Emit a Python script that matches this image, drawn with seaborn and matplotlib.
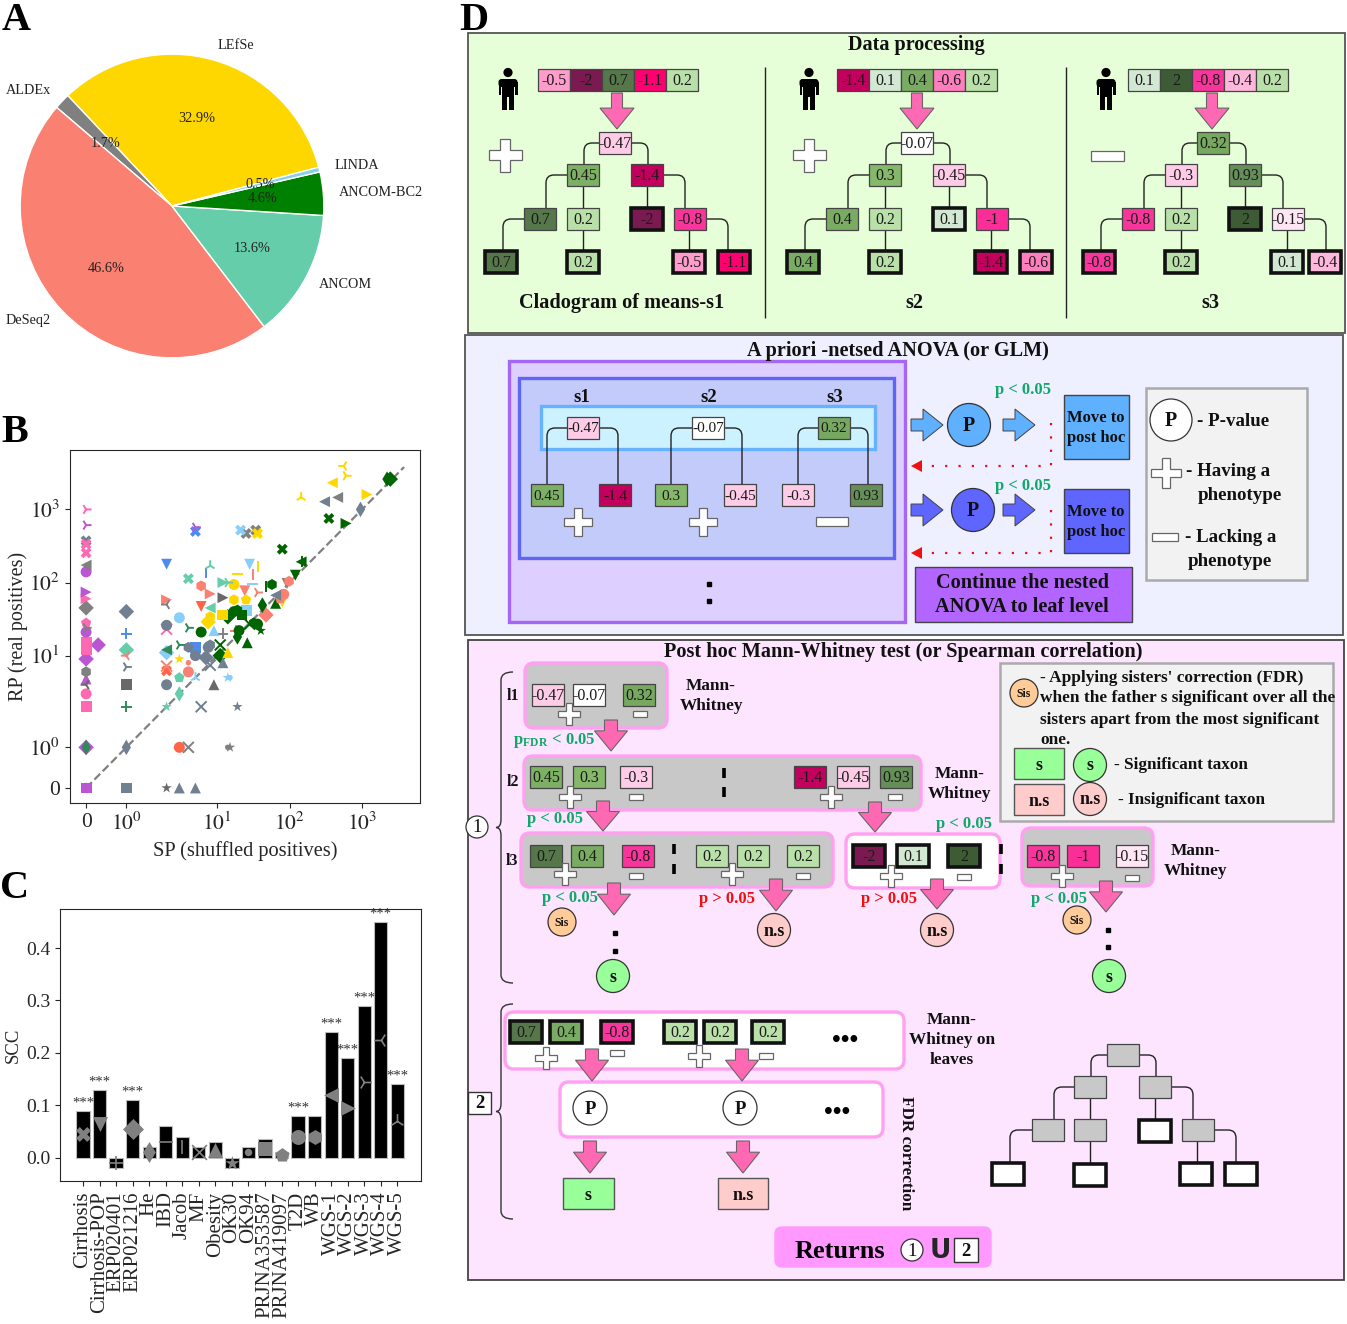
import numpy as np
import pandas as pd
import seaborn as sns
import matplotlib
matplotlib.use("Agg")
import matplotlib.pyplot as plt
from matplotlib.patches import Rectangle, Circle, Polygon, FancyBboxPatch, PathPatch
from matplotlib.path import Path

# panel A
pie_labels = ["LEfSe", "ALDEx", "DeSeq2", "ANCOM", "ANCOM-BC2", "LINDA"]
pie_values = [32.9, 1.7, 46.6, 13.6, 4.6, 0.5]
pie_colors = ["#FFD700", "#808080", "#FA8072", "#66CDAA", "#008000", "#87CEEB"]

# panel C
dataset_names = ["Cirrhosis", "Cirrhosis-POP", "ERP020401", "ERP021216", "He", "IBD", "Jacob", "MF",
                 "Obesity", "OK30", "OK94", "PRJNA353587", "PRJNA419097", "T2D", "WB",
                 "WGS-1", "WGS-2", "WGS-3", "WGS-4", "WGS-5"]
scc_values = [0.09, 0.13, -0.02, 0.11, 0.02, 0.06, 0.04, 0.02, 0.03, -0.02,
              0.02, 0.035, 0.01, 0.08, 0.08, 0.24, 0.19, 0.29, 0.45, 0.14]
scc_significant = ["Cirrhosis", "Cirrhosis-POP", "ERP021216", "T2D", "WGS-1", "WGS-2", "WGS-3", "WGS-4", "WGS-5"]
dataset_markers = ["X", "v", "+", "D", "d", "_", "|", "x", "^", "*", ".", "s", "p", "o", "h", "<", ">", "4", "3", "2"]

# panel B, one set of lists per method
aldex_sp = [25, 34, 460, 92, 2, 12, 14, 15, 4, 0, 0, 0, 0]
aldex_rp = [469, 521, 1460, 97, 50, 20, 1, 1, 1, 45, 24, 173, 6]
aldex_set = ["Cirrhosis", "Cirrhosis", "WGS-1", "Cirrhosis-POP", "WGS-4", "ERP020401", "OK94", "OK30", "MF",
             "ERP021216", "WGS-3", "WGS-1", "WB"]
dimgray_sp = [12, 1, 2, 0, 9]
dimgray_rp = [62, 4, 0, 4, 4]
dimgray_set = ["WGS-2", "PRJNA353587", "OK30", "WGS-4", "Obesity"]
slate_sp = [303, 950, 64, 42, 8, 7.5, 7, 5, 4, 8, 12, 2, 6, 19, 1, 1, 1, 3, 5, 0, 2, 1]
slate_rp = [1275, 1000, 67, 49, 14, 13, 9.4, 10, 13, 7.4, 8, 4, 2, 2, 40, 7, 1, 0, 0, 372, 26, 0]
slate_set = ["WGS-1", "He", "WGS-1", "He", "WB", "T2D", "ERP021216", "T2D", "WB", "MF", "Obesity", "T2D", "MF",
             "OK30", "ERP021216", "WGS-3", "He", "Obesity", "Obesity", "Cirrhosis", "T2D", "PRJNA353587"]
deseq_sp = [24, 36, 98, 83, 47, 18, 31, 2, 8, 6, 2, 1, 4, 4, 74]
deseq_rp = [77, 73, 104, 69, 36, 22, 130, 58, 70, 90, 7.2, 10, 8, 6, 60]
deseq_set = ["Cirrhosis-POP", "WGS-3", "WB", "T2D", "ERP021216", "ERP020401", "Jacob", "WGS-2", "WGS-2", "WB",
             "MF", "WGS-4", "OK94", "T2D", "PRJNA419097"]
tomato_sp = [2, 6, 3]
tomato_rp = [6.2, 47, 1]
tomato_set = ["Cirrhosis", "Cirrhosis-POP", "T2D"]
lefse_sp = [558, 600, 388, 1170, 144, 36, 36, 19, 17, 17, 25, 12, 79, 14, 7.5, 8, 3]
lefse_rp = [3930, 2890, 2320, 1600, 1460, 469, 164, 130, 94, 58, 58, 36, 54, 11, 29, 34, 9]
lefse_set = ["WGS-4", "WGS-3", "WGS-1", "WGS-2", "WGS-5", "Cirrhosis", "Jacob", "IBD", "T2D", "WB", "PRJNA419097",
             "PRJNA353587", "Cirrhosis-POP", "Obesity", "ERP021216", "WB", "OK30"]
linda_sp = [21, 28, 31, 25, 9, 14, 2, 3, 5, 15]
linda_rp = [521, 178, 97, 42, 22, 5, 11, 33, 5, 5]
linda_set = ["Cirrhosis", "Cirrhosis-POP", "IBD", "PRJNA353587", "Obesity", "OK30", "ERP021216", "T2D", "WGS-5", "OK94"]
bc2_sp = [2210, 2450, 600, 348, 144, 120, 79, 57, 47, 64, 42, 14, 17, 19, 22, 32, 36, 40, 26, 11, 11, 19, 20, 28, 6, 150]
bc2_rp = [2600, 2600, 643, 753, 192, 126, 286, 94, 87, 52, 49, 34, 40, 42, 36, 28, 27, 22, 15, 10, 14, 18, 22, 27, 21, 192]
bc2_set = ["He", "ERP021216", "WGS-2", "Cirrhosis", "WGS-1", "Cirrhosis-POP", "Cirrhosis", "WB", "Jacob", "Obesity",
           "He", "ERP021216", "T2D", "WB", "PRJNA353587", "WB", "T2D", "OK30", "Obesity", "ERP021216", "MF", "He",
           "T2D", "MF", "T2D", "Jacob"]
ancom_sp = [4, 1, 8, 8, 12, 3, 3, 2, 14]
ancom_rp = [113, 12, 170, 45, 100, 5, 3, 2, 100]
ancom_set = ["Cirrhosis", "ERP021216", "WGS-5", "WGS-1", "WGS-2", "PRJNA419097", "He", "OK30", "WGS-3"]
pink_sp = [0, 0, 0, 0, 0, 0, 0, 0, 0, 2, 0]
pink_rp = [1000, 335, 255, 60, 28, 15, 13, 12, 2, 23, 3]
pink_set = ["WGS-3", "Cirrhosis", "Cirrhosis", "WGS-2", "PRJNA419097", "PRJNA353587", "PRJNA353587",
            "PRJNA353587", "PRJNA353587", "MF", "T2D"]
orchid_sp = [0, 0, 0, 0, 0, 0, 0, 0, 5, 0.3, 0]
orchid_rp = [610, 140, 74, 21, 9, 4.8, 1, 0, 570, 14, 0]
orchid_set = ["WGS-3", "T2D", "WGS-2", "T2D", "ERP021216", "Obesity", "ERP021216", "PRJNA353587", "WGS-3",
              "ERP021216", "PRJNA419097"]
corn_sp = [2, 5, 7, 1, 5, 0]
corn_rp = [178, 500, 135, 20, 13, 0]
corn_set = ["Cirrhosis-POP", "Cirrhosis", "Jacob", "ERP020401", "PRJNA353587", "ERP020401"]
sea_sp = [1, 0, 3, 4, 2]
sea_rp = [2, 1, 14, 24, 12]
sea_set = ["ERP020401", "He", "WGS-3", "WGS-3", "WGS-1"]

method_points = {
    "ALDEx": (aldex_sp, aldex_rp, aldex_set), "dimgray": (dimgray_sp, dimgray_rp, dimgray_set),
    "slate": (slate_sp, slate_rp, slate_set), "DeSeq2": (deseq_sp, deseq_rp, deseq_set),
    "tomato": (tomato_sp, tomato_rp, tomato_set), "LEfSe": (lefse_sp, lefse_rp, lefse_set),
    "LINDA": (linda_sp, linda_rp, linda_set), "ANCOM-BC2": (bc2_sp, bc2_rp, bc2_set),
    "ANCOM": (ancom_sp, ancom_rp, ancom_set), "pink": (pink_sp, pink_rp, pink_set),
    "orchid": (orchid_sp, orchid_rp, orchid_set), "corn": (corn_sp, corn_rp, corn_set),
    "sea": (sea_sp, sea_rp, sea_set),
}
method_colors = {"ALDEx": "#808080", "dimgray": "#696969", "slate": "#708090", "DeSeq2": "#FA8072",
                 "tomato": "#FF6347", "LEfSe": "#FFD700", "LINDA": "#87CEFA", "ANCOM-BC2": "#006400",
                 "ANCOM": "#66CDAA", "pink": "#FF69B4", "orchid": "#BA55D3", "corn": "#4F8BEE", "sea": "#2E8B57"}

# colours of the value cells in panel D
cell_colors = {"-2": "#7A1A50", "-1.4": "#C4005E", "-1.1": "#FF0070", "-1": "#FA2E96", "-0.8": "#F7359A",
               "-0.6": "#FF7FBE", "-0.5": "#FF9CCC", "-0.47": "#FFCCE8", "-0.45": "#FFCCE8", "-0.4": "#FFB8DC",
               "-0.3": "#FFCCE8", "-0.15": "#FFE6F5", "-0.07": "#FFFFFF", "0.1": "#D2E8D2", "0.2": "#B8E0A8",
               "0.3": "#85B86A", "0.32": "#76A860", "0.4": "#7AAB62", "0.45": "#7DB065", "0.7": "#55774A",
               "0.93": "#658E58", "2": "#3D5C35"}
s1_strip = ["-0.5", "-2", "0.7", "-1.1", "0.2"]
s2_strip = ["-1.4", "0.1", "0.4", "-0.6", "0.2"]
s3_strip = ["0.1", "2", "-0.8", "-0.4", "0.2"]
s1_tree = ["-0.47", "0.45", "-1.4", "0.7", "0.2", "-2", "-0.8", "0.7", "0.2", "-0.5", "-1.1"]
s2_tree = ["-0.07", "0.3", "-0.45", "0.4", "0.2", "0.1", "-1", "0.4", "0.2", "-1.4", "-0.6"]
s3_tree = ["0.32", "-0.3", "0.93", "-0.8", "0.2", "2", "-0.15", "-0.8", "0.2", "0.1", "-0.4"]

W, H = 1347, 1324
GREEN, RED, PINK = "#10A868", "#F01010", "#FF69B4"
EDGE_PINK = "#FFA0F0"

sns.set_style("ticks")
plt.rcParams["font.family"] = ["Liberation Serif", "DejaVu Serif"]
plt.rcParams["mathtext.fontset"] = "stix"

fig = plt.figure(figsize=(W / 100, H / 100), dpi=100)


def px_axes(x0, y0, x1, y1):
    return fig.add_axes([x0 / W, 1 - y1 / H, (x1 - x0) / W, (y1 - y0) / H])


canvas = fig.add_axes([0, 0, 1, 1])
canvas.set_xlim(0, W)
canvas.set_ylim(H, 0)
canvas.axis("off")


def txt(x, y, s, size=11.5, bold=False, color="#111111", ha="center", va="center", rot=0, z=6, **kw):
    canvas.text(x, y + 1, s, fontsize=size, fontweight="bold" if bold else "normal", color=color,
                ha=ha, va=va, rotation=rot, zorder=z, **kw)


def box(x0, y0, x1, y1, fc, ec="#555555", lw=1.0, z=1):
    canvas.add_patch(Rectangle((x0, y0), x1 - x0, y1 - y0, fc=fc, ec=ec, lw=lw, zorder=z))


def rbox(x0, y0, x1, y1, fc, ec=EDGE_PINK, lw=2.4, r=9, z=2):
    canvas.add_patch(FancyBboxPatch((x0, y0), x1 - x0, y1 - y0, boxstyle=f"round,pad=0,rounding_size={r}",
                                    fc=fc, ec=ec, lw=lw, zorder=z))


def cell(cx, cy, label, bold=False, w=32, h=22, size=11.5):
    lw = 2.6 if bold else 0.9
    ec = "#111111" if bold else "#444444"
    box(cx - w / 2, cy - h / 2, cx + w / 2, cy + h / 2, cell_colors[label], ec=ec, lw=lw, z=4)
    txt(cx, cy, label, size=size, color="#1A1A1A")


def blank(cx, cy, bold=False, fc="#C8C8C8"):
    box(cx - 16, cy - 11, cx + 16, cy + 11, fc, ec="#111111" if bold else "#444444", lw=2.6 if bold else 0.9, z=4)


def disc(cx, cy, r, fc, label=None, size=12, bold=True):
    canvas.add_patch(Circle((cx, cy), r, fc=fc, ec="#333333", lw=0.9, zorder=5))
    if label:
        txt(cx, cy, label, size=size, bold=bold)


def plus(cx, cy, size=22):
    a, t = size / 2, size * 0.14
    pts = [(-t, -a), (t, -a), (t, -t), (a, -t), (a, t), (t, t), (t, a), (-t, a), (-t, t), (-a, t), (-a, -t), (-t, -t)]
    canvas.add_patch(Polygon([(cx + p, cy + q) for p, q in pts], fc="white", ec="#666666", lw=0.9, zorder=7))


def minus(cx, cy, w=14, h=6):
    box(cx - w / 2, cy - h / 2, cx + w / 2, cy + h / 2, "white", ec="#666666", lw=0.9, z=7)


def down_arrow(cx, top, tip, sw=6.5, hw=16.5, frac=0.35):
    neck = top + (tip - top) * frac
    pts = [(cx - sw, top), (cx + sw, top), (cx + sw, neck), (cx + hw, neck), (cx, tip), (cx - hw, neck), (cx - sw, neck)]
    canvas.add_patch(Polygon(pts, fc=PINK, ec="#666666", lw=0.8, zorder=8))


def right_arrow(x0, x1, y, fc):
    pts = [(x0, y - 6), (x0 + 12, y - 6), (x0 + 12, y - 16), (x1, y), (x0 + 12, y + 16), (x0 + 12, y + 6), (x0, y + 6)]
    canvas.add_patch(Polygon(pts, fc=fc, ec="#444444", lw=0.7, zorder=4))


def elbow(x0, y0, x1, y1, r=8, lw=1.0):
    s = 1 if x1 > x0 else -1
    path = Path([(x0, y0), (x1 - s * r, y0), (x1, y0), (x1, y0 + r), (x1, y1)],
                [Path.MOVETO, Path.LINETO, Path.CURVE3, Path.CURVE3, Path.LINETO])
    canvas.add_patch(PathPatch(path, fc="none", ec="#222222", lw=lw, zorder=3))


def vline(x, y0, y1, lw=1.0, color="#222222"):
    canvas.plot([x, x], [y0, y1], color=color, lw=lw, zorder=3, solid_capstyle="butt")


def brace(x1, x0, tip, y0, y1):
    ym, r = (y0 + y1) / 2, 8
    verts = [(x1, y0), (x0, y0), (x0, y0 + r), (x0, ym - r), (x0, ym), (tip, ym), (x0, ym), (x0, ym + r),
             (x0, y1 - r), (x0, y1), (x1, y1)]
    codes = [Path.MOVETO, Path.CURVE3, Path.CURVE3, Path.LINETO, Path.CURVE3, Path.CURVE3, Path.CURVE3, Path.CURVE3,
             Path.LINETO, Path.CURVE3, Path.CURVE3]
    canvas.add_patch(PathPatch(Path(verts, codes), fc="none", ec="#333333", lw=1.0, zorder=3))


def dots(x, ys):
    canvas.plot([x] * len(ys), ys, ls="none", marker="s", ms=2.6, color="black", zorder=6)


def person(cx):
    canvas.add_patch(Circle((cx, 72.5), 4.6, fc="black", ec="none", zorder=4))
    canvas.add_patch(FancyBboxPatch((cx - 9.5, 79), 19, 8, boxstyle="round,pad=0,rounding_size=3",
                                    fc="black", ec="none", zorder=4))
    box(cx - 9.5, 82, cx - 6.8, 95, "black", ec="none", lw=0, z=4)
    box(cx + 6.8, 82, cx + 9.5, 95, "black", ec="none", lw=0, z=4)
    box(cx - 5.8, 80, cx + 5.8, 97, "black", ec="none", lw=0, z=4)
    box(cx - 5.8, 96, cx - 0.6, 110, "black", ec="none", lw=0, z=4)
    box(cx + 0.6, 96, cx + 5.8, 110, "black", ec="none", lw=0, z=4)


# template cladogram of panel D, top row, node order as in the s*_tree lists
tree_nodes = [(615, 143), (583, 175), (647, 175), (540, 219), (583, 219), (647, 219), (690, 219),
              (501, 262), (583, 262), (689, 262), (734, 262)]
tree_bold = [5, 7, 8, 9, 10]
tree_elbows = [(599, 143, 584, 164), (631, 143, 648, 164), (567, 175, 546, 208), (663, 175, 685, 208),
               (524, 219, 503, 251), (706, 219, 728, 251)]
tree_drops = [(583, 186, 208), (647, 186, 208), (583, 230, 251), (689, 230, 251)]


def draw_tree(dx, labels, last_x=None):
    for x0, y0, x1, y1 in tree_elbows:
        elbow(x0 + dx, y0, x1 + dx, y1)
    for x, y0, y1 in tree_drops:
        vline(x + dx, y0, y1)
    for i, (x, y) in enumerate(tree_nodes):
        cx = last_x if (i == 10 and last_x) else x + dx
        cell(cx, y, labels[i], bold=i in tree_bold)


# ---------- panel letters ----------
for lx, ly, letter in [(16, 30, "A"), (15, 442, "B"), (15, 898, "C"), (474, 30, "D")]:
    canvas.text(lx, ly, letter, fontsize=29, fontweight="bold", color="black", ha="center", va="baseline", zorder=6)

# ---------- A: pie ----------
ax_a = px_axes(5, 39, 339, 373)
ax_a.pie(pie_values, labels=pie_labels, colors=pie_colors, autopct="%.1f%%", startangle=14.8,
         textprops={"fontsize": 10.3, "color": "#222222"})
ax_a.set_xlim(-1.1, 1.1)
ax_a.set_ylim(-1.1, 1.1)

# ---------- B: real vs shuffled positives ----------
rows = []
for method, (sp, rp, sets) in method_points.items():
    rows.append(pd.DataFrame({"SP": sp, "RP": rp, "dataset": sets, "method": method}))
points = pd.concat(rows, ignore_index=True)

ax_b = px_axes(70, 450, 420, 803)
ax_b.set_xscale("symlog", linthresh=2, linscale=1)
ax_b.set_yscale("symlog", linthresh=2, linscale=1)
ax_b.plot([0, 3800], [0, 3800], color="gray", ls="--", lw=1.6, zorder=1)
for name, marker in zip(dataset_names, dataset_markers):
    sub = points[points["dataset"] == name]
    if sub.empty:
        continue
    filled = matplotlib.markers.MarkerStyle(marker).is_filled()
    sns.scatterplot(data=sub, x="SP", y="RP", hue="method", palette=method_colors, marker=marker,
                    s=62, linewidth=0 if filled else 1.4, legend=False, ax=ax_b, zorder=3)
ax_b.set_xlim(-0.4, 6300)
ax_b.set_ylim(-0.37, 6500)
tick_vals = [0, 1, 10, 100, 1000]
tick_text = ["0", "$10^{0}$", "$10^{1}$", "$10^{2}$", "$10^{3}$"]
ax_b.set_xticks(tick_vals, labels=tick_text)
ax_b.set_yticks(tick_vals, labels=tick_text)
ax_b.minorticks_off()
ax_b.tick_params(labelsize=15.5)
ax_b.set_xlabel("SP (shuffled positives)", fontsize=14.7, labelpad=4)
ax_b.set_ylabel("RP (real positives)", fontsize=14.5, labelpad=1)

# ---------- C: SCC per data set ----------
ax_c = px_axes(60, 909, 421, 1181)
positions = np.arange(len(dataset_names))
sns.barplot(x=positions, y=scc_values, native_scale=True, color="black", saturation=1, width=0.8,
            edgecolor="#BBBBBB", linewidth=0.8, ax=ax_c)
for i, name in enumerate(dataset_names):
    marker = dataset_markers[i]
    filled = matplotlib.markers.MarkerStyle(marker).is_filled()
    sns.scatterplot(x=[i], y=[scc_values[i] / 2], marker=marker, color="gray", s=115,
                    linewidth=0 if filled else 1.2, legend=False, ax=ax_c, zorder=4)
    if name in scc_significant:
        ax_c.text(i, scc_values[i] + 0.015, "***", ha="center", va="center", fontsize=10.5, color="#333333")
ax_c.set_xlim(-1.39, 20.43)
ax_c.set_ylim(-0.0445, 0.4745)
ax_c.set_xticks(positions, labels=dataset_names, rotation=90)
ax_c.set_yticks([0, 0.1, 0.2, 0.3, 0.4], labels=["0.0", "0.1", "0.2", "0.3", "0.4"])
ax_c.tick_params(axis="x", labelsize=15, pad=4)
ax_c.tick_params(axis="y", labelsize=14)
ax_c.set_ylabel("SCC", fontsize=13.5, labelpad=3)

# ---------- D: data processing ----------
box(468, 33, 1345, 333, "#E6FFD8", ec="#555555", lw=1.3)
txt(916, 44, "Data processing", size=14.5, bold=True)
for px, left, strip in [(508, 538, s1_strip), (809, 837, s2_strip), (1106, 1128, s3_strip)]:
    person(px)
    for j, label in enumerate(strip):
        cell(left + 16 + j * 32, 80, label)
for ax_x in (617, 917, 1212):
    down_arrow(ax_x, 93, 129, sw=5.5, hw=17, frac=0.42)
draw_tree(0, s1_tree)
draw_tree(302, s2_tree)
draw_tree(598, s3_tree, last_x=1325)
plus(505, 155, 33)
plus(809, 155, 33)
minus(1107, 156, 33, 10)
vline(765, 67, 318)
vline(1066, 67, 318)
txt(622, 302, "Cladogram of means-s1", size=14.6, bold=True)
txt(914, 302, "s2", size=14.6, bold=True)
txt(1210, 302, "s3", size=14.6, bold=True)

# ---------- D: nested ANOVA ----------
box(465, 335, 1343, 635, "#EEF0FF", ec="#555555", lw=1.3)
txt(898, 350, "A priori -netsed ANOVA (or GLM)", size=14.6, bold=True)
box(509, 361, 905, 622, "#DDCFFF", ec="#A566F5", lw=2.4, z=1.2)
box(519, 378, 894, 558, "#C3CBFB", ec="#5F66F5", lw=2.4, z=1.4)
box(541, 406, 875, 449, "#CCF2FF", ec="#66B2FF", lw=2.4, z=1.6)
for x, label in [(582, "s1"), (709, "s2"), (835, "s3")]:
    txt(x, 396, label, size=13.5, bold=True)
anova_roots = [(583, "-0.47"), (708, "-0.07"), (834, "0.32")]
anova_kids = [(547, "0.45", 567, 618), (671, "0.3", 692, 742), (798, "-0.3", 818, 868)]
anova_right = [(615, "-1.4"), (740, "-0.45"), (866, "0.93")]
for (rx, rl), (lx, ll, ex, erx), (kx, kl) in zip(anova_roots, anova_kids, anova_right):
    elbow(rx - 16, 428, lx, 484)
    elbow(rx + 16, 428, erx, 484)
    cell(rx, 428, rl, h=22, size=11)
    cell(lx, 495, ll, h=22, size=11)
    cell(kx, 495, kl, h=22, size=11)
plus(578, 522, 28)
plus(703, 522, 28)
minus(832, 521, 32, 9)
dots(709, [584, 601])
for y_c, cx, fc, by0, by1, py, y_red, y_vtop in [(425, 969, "#5FB0FF", 395, 459, 389, 466, 423),
                                                 (510, 973, "#5F66FF", 489, 553, 485, 553, 510)]:
    right_arrow(911, 943, y_c, fc)
    disc(cx, y_c, 21.5, fc, "P", size=14.5)
    right_arrow(1003, 1035, y_c, fc)
    box(1064, by0, 1129, by1, fc, ec="#444444", lw=1.0, z=2)
    txt(1096, (by0 + by1) / 2, "Move to\npost hoc", size=12, bold=True, linespacing=1.3)
    txt(1023, py, "p < 0.05", size=12, bold=True, color=GREEN)
    canvas.plot([1051, 1051, 920], [y_vtop, y_red, y_red], color=RED, lw=1.6, ls=(0, (1, 5)), zorder=3)
    canvas.add_patch(Polygon([(911, y_red), (922, y_red - 6), (922, y_red + 6)], fc=RED, ec="none", zorder=3))
box(915, 567, 1132, 622, "#B266FF", ec="#444444", lw=1.0, z=2)
txt(1022, 594, "Continue the nested\nANOVA to leaf level", size=14.6, bold=True, linespacing=1.25)
box(1146, 388, 1307, 580, "#F2F2F2", ec="#AAAAAA", lw=1.8, z=2)
disc(1171, 420, 21, "white", "P", size=14.5)
txt(1197, 420, "- P-value", size=13.6, bold=True, ha="left")
plus(1166, 473, 30)
txt(1186, 470, "- Having a", size=13.6, bold=True, ha="left")
txt(1198, 494, "phenotype", size=13.6, bold=True, ha="left")
minus(1165, 537, 26, 8)
txt(1185, 536, "- Lacking a", size=13.6, bold=True, ha="left")
txt(1188, 560, "phenotype", size=13.6, bold=True, ha="left")

# ---------- D: post hoc ----------
box(468, 640, 1344, 1280, "#FDE5FF", ec="#444444", lw=1.3)
txt(903, 651, "Post hoc Mann-Whitney test (or Spearman correlation)", size=14.6, bold=True)

GRAY = "#C8C8C8"
rbox(525, 663, 667, 728, GRAY)
for x, label in [(548, "-0.47"), (589, "-0.07"), (639, "0.32")]:
    cell(x, 695, label, h=22)
plus(569, 714, 22)
minus(640, 714)
txt(513, 695, "l1", size=11.5, bold=True)
txt(711, 695, "Mann-\nWhitney", size=12.4, bold=True, linespacing=1.35)
down_arrow(611, 720, 751)
txt(554, 740, "p$_{\\mathregular{FDR}}$ < 0.05", size=12, bold=True, color=GREEN)

rbox(524, 756, 921, 810, GRAY)
for x, label in [(546, "0.45"), (589, "0.3"), (636, "-0.3"), (810, "-1.4"), (853, "-0.45"), (896, "0.93")]:
    cell(x, 777, label)
canvas.plot([724, 724], [768, 778], color="black", lw=2.6, zorder=6, solid_capstyle="butt")
canvas.plot([724, 724], [787, 797], color="black", lw=2.6, zorder=6, solid_capstyle="butt")
plus(570, 797, 22)
minus(636, 797)
plus(831, 797, 22)
minus(895, 797)
txt(513, 781, "l2", size=11.5, bold=True)
txt(960, 783, "Mann-\nWhitney", size=12.4, bold=True, linespacing=1.35)
down_arrow(603, 801, 831)
down_arrow(875, 802, 832)
txt(555, 818, "p < 0.05", size=12, bold=True, color=GREEN)

rbox(521, 833, 833, 887, GRAY)
for x, label in [(546, "0.7"), (587, "0.4"), (638, "-0.8"), (712, "0.2"), (753, "0.2"), (803, "0.2")]:
    cell(x, 856, label)
for x in (674, 1001):
    canvas.plot([x, x], [844, 854], color="black", lw=2.6, zorder=6, solid_capstyle="butt")
    canvas.plot([x, x], [864, 874], color="black", lw=2.6, zorder=6, solid_capstyle="butt")
plus(565, 874, 22)
minus(636, 876)
plus(732, 874, 22)
minus(803, 876)
txt(512, 860, "l3", size=11.5, bold=True)

rbox(846, 834, 1000, 888, "white")
for x, label in [(869, "-2"), (913, "0.1"), (964, "2")]:
    cell(x, 856, label, bold=True)
plus(891, 876, 22)
minus(964, 877)

rbox(1022, 828, 1153, 886, GRAY)
for x, label in [(1043, "-0.8"), (1083, "-1"), (1132, "-0.15")]:
    cell(x, 856, label)
plus(1062, 876, 22)
minus(1132, 878)
txt(1196, 860, "Mann-\nWhitney", size=12.4, bold=True, linespacing=1.35)

down_arrow(614, 883, 915)
down_arrow(776, 879, 911)
down_arrow(937, 879, 909)
down_arrow(1106, 881, 912)
txt(570, 897, "p < 0.05", size=12, bold=True, color=GREEN)
txt(727, 898, "p > 0.05", size=12, bold=True, color=RED)
txt(889, 898, "p > 0.05", size=12, bold=True, color=RED)
txt(1059, 898, "p < 0.05", size=12, bold=True, color=GREEN)
txt(964, 823, "p < 0.05", size=12, bold=True, color=GREEN)

disc(562, 922, 14, "#FFCC99", "Sis", size=8.5)
disc(1077, 920, 14, "#FFCC99", "Sis", size=8.5)
disc(774, 930, 16.5, "#FFCCCC", "n.s", size=13)
disc(937, 930, 16.5, "#FFCCCC", "n.s", size=13)
disc(613, 976, 16.5, "#99FF99", "s", size=13)
disc(1109, 976, 16.5, "#99FF99", "s", size=13)
dots(615, [933, 951])
dots(1108, [930, 947])

brace(513, 501, 496, 672, 983)
disc(477, 827, 11, "white", "1", size=13.5, bold=False)

box(1000, 663, 1333, 821, "#F2F2F2", ec="#AAAAAA", lw=1.8, z=2)
disc(1024, 693, 14, "#FFCC99", "Sis", size=8.5)
txt(1040, 677, "- Applying sisters' correction (FDR)", size=12.4, bold=True, ha="left")
txt(1040, 697, "when the father s significant over all the", size=12.4, bold=True, ha="left")
txt(1040, 719, "sisters apart from the most significant", size=12.4, bold=True, ha="left")
txt(1040, 739, "one.", size=12.4, bold=True, ha="left")
box(1014, 748, 1064, 779, "#99FF99", ec="#555555", lw=1.0, z=4)
txt(1039, 764, "s", size=13, bold=True)
disc(1090, 765, 16.5, "#99FF99", "s", size=13)
txt(1114, 764, "- Significant taxon", size=12.3, bold=True, ha="left")
box(1014, 784, 1064, 815, "#FFCCCC", ec="#555555", lw=1.0, z=4)
txt(1039, 800, "n.s", size=13, bold=True)
disc(1090, 799, 16.5, "#FFCCCC", "n.s", size=13)
txt(1118, 799, "- Insignificant taxon", size=12.3, bold=True, ha="left")

# leaves part
brace(513, 501, 496, 1004, 1219)
box(468, 1092, 491, 1114, "white", ec="#333333", lw=1.0, z=5)
txt(479.5, 1103, "2", size=13.5, bold=True)
rbox(505, 1012, 904, 1069, "white")
for x, label in [(526, "0.7"), (566, "0.4"), (617, "-0.8"), (680, "0.2"), (720, "0.2"), (768, "0.2")]:
    cell(x, 1032, label, bold=True)
txt(845, 1039, "•••", size=18, bold=True, color="black")
plus(546, 1058, 22)
minus(617, 1053)
plus(699, 1056, 22)
minus(766, 1056)
down_arrow(592, 1049, 1081)
down_arrow(742, 1049, 1081)
txt(952, 1039, "Mann-\nWhitney on\nleaves", size=12.4, bold=True, linespacing=1.35)
rbox(560, 1082, 883, 1137, "white")
disc(590, 1108, 17, "white", "P", size=13.5)
disc(740, 1108, 17, "white", "P", size=13.5)
txt(837, 1112, "•••", size=18, bold=True, color="black")
txt(906, 1152, "FDR correction", size=12.3, bold=True, rot=-90)
down_arrow(590, 1141, 1173)
down_arrow(743, 1141, 1173)
box(563, 1178, 614, 1209, "#99FF99", ec="#555555", lw=1.0, z=4)
txt(588, 1194, "s", size=13, bold=True)
box(718, 1178, 768, 1209, "#FFCCCC", ec="#555555", lw=1.0, z=4)
txt(743, 1194, "n.s", size=13, bold=True)

# gray outline of the tree
skeleton = [(1123, 1055), (1090, 1087), (1155, 1087), (1048, 1130), (1090, 1130), (1155, 1131), (1198, 1130),
            (1008, 1174), (1090, 1175), (1196, 1174), (1241, 1174)]
elbow(1107, 1055, 1091, 1076)
elbow(1139, 1055, 1156, 1076)
elbow(1074, 1087, 1054, 1119)
elbow(1171, 1087, 1193, 1119)
elbow(1032, 1130, 1010, 1163)
elbow(1214, 1130, 1236, 1163)
vline(1090, 1098, 1119)
vline(1155, 1098, 1120)
vline(1090, 1141, 1164)
vline(1197, 1141, 1163)
for i, (x, y) in enumerate(skeleton):
    blank(x, y, bold=i in tree_bold, fc="white" if i in tree_bold else GRAY)

rbox(775, 1227, 991, 1267, "#FF99FF", ec="#FF99FF", lw=1.0, r=7)
txt(840, 1250, "Returns", size=19, bold=True, color="black")
disc(912, 1250, 11, "white", "1", size=13.5, bold=False)
canvas.text(940, 1251, "U", fontsize=19, fontweight="bold", family="DejaVu Sans", ha="center", va="center", zorder=6)
box(954, 1238, 978, 1262, "white", ec="#333333", lw=1.0, z=5)
txt(966, 1250, "2", size=13.5, bold=True)

fig.savefig("out.png", dpi=100)
